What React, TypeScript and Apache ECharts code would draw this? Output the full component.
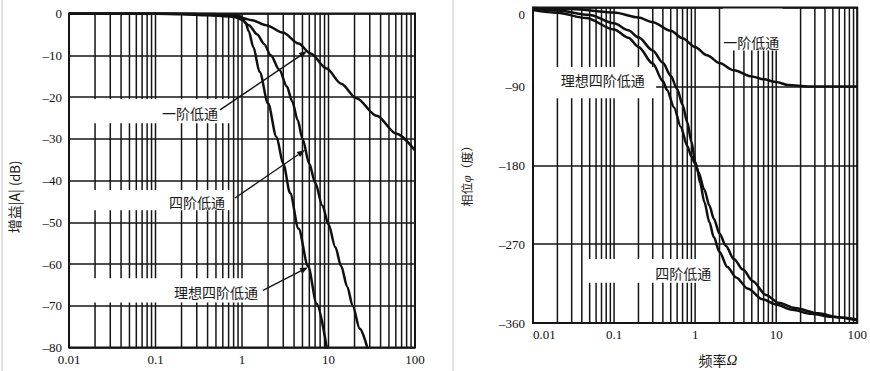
import React, { useEffect, useRef } from "react";
import * as echarts from "echarts";

// ---------- data ----------
const gridFreqs = [
  0.01, 0.02, 0.03, 0.04, 0.05, 0.06, 0.07, 0.08, 0.09,
  0.1, 0.2, 0.3, 0.4, 0.5, 0.6, 0.7, 0.8, 0.9,
  1, 2, 3, 4, 5, 6, 7, 8, 9,
  10, 20, 30, 40, 50, 60, 70, 80, 90, 100,
];
const freqTicks = [0.01, 0.1, 1, 10, 100];

// gain |A| (dB)  [Ω, dB]
const firstOrderGain = [
  [0.01, 0], [0.1, -0.05], [0.2, -0.15], [0.4, -0.4], [0.7, -0.7], [1, -1.1],
  [1.3, -1.6], [1.9, -2.8], [3, -4.6], [4.5, -7.2], [6.2, -9.6], [9.5, -13.2],
  [14, -16.8], [21, -20.3], [36, -24.5], [61, -28.8], [100, -32.8],
];
const fourthOrderGain = [
  [0.01, 0], [0.1, 0], [0.3, -0.1], [0.6, -0.3], [0.8, -0.6], [1, -1.5],
  [1.2, -2.8], [1.5, -5], [1.8, -7.3], [2.15, -10], [2.7, -13.5], [3.3, -17.5],
  [3.8, -21], [4.4, -25.5], [5.0, -30], [6.0, -36], [7.0, -40.5], [8.5, -46],
  [10, -50.5], [12, -56], [14, -60.5], [16.5, -65.5], [19, -70], [23, -75.5],
  [28.5, -80.5],
];
const idealFourthGain = [
  [0.01, 0], [0.1, 0], [0.5, -0.1], [0.9, -0.4], [1, -0.9], [1.1, -2.3],
  [1.2, -4.3], [1.35, -8], [1.6, -14], [2.0, -21.5], [2.5, -29.5], [3.0, -36],
  [3.6, -43], [4.5, -51.5], [5.8, -60.5], [7.3, -69.5], [9.7, -81],
];

// phase φ (deg)  [Ω, deg]
const firstOrderPhase = [
  [0.01, -0.6], [0.03, -1.7], [0.1, -5.7], [0.2, -11.3], [0.3, -16.7],
  [0.5, -26.6], [0.7, -35], [1, -45], [1.4, -54.5], [2, -63.4], [3, -71.6],
  [5, -78.7], [7, -82], [10, -85], [14, -88.5], [25, -90], [50, -90], [100, -90],
];
const idealFourthPhase = [
  [0.01, -1.5], [0.02, -3.5], [0.05, -8.5], [0.1, -18], [0.15, -26], [0.2, -34],
  [0.3, -49], [0.4, -63], [0.5, -78], [0.6, -93], [0.7, -111], [0.8, -131],
  [0.9, -153], [1.0, -176], [1.05, -182], [1.15, -200], [1.3, -222], [1.5, -245],
  [1.7, -262], [2.0, -279], [2.5, -296], [3.2, -308], [4.5, -321], [6.8, -333],
  [10, -339], [15.7, -345], [27, -349.5], [48, -353], [100, -357],
];
const fourthOrderPhase = [
  [0.01, -3], [0.02, -6], [0.045, -12], [0.1, -25], [0.15, -34.5], [0.2, -45],
  [0.3, -64], [0.4, -84], [0.45, -94], [0.55, -114], [0.664, -136], [0.8, -158],
  [0.9, -170], [1.0, -178], [1.1, -188], [1.3, -208], [1.5, -226], [1.7, -241],
  [2.0, -258], [2.4, -272], [3.0, -287], [3.9, -299], [5.1, -312], [7.5, -328],
  [10.7, -337], [17, -343], [33, -349], [57, -353.4], [100, -356],
];

// ---------- annotations (data coords) ----------
const labelNames = ["一阶低通", "四阶低通", "理想四阶低通"];
const gainLabels = [[0.251, -23.9, 0], [0.302, -45.2, 1], [0.5, -66.8, 2]];
const gainArrows = [
  [0.557, -23.1, 5.64, -9.0],
  [0.83, -44.2, 5.35, -32.7],
  [1.75, -66.3, 5.8, -60.8],
];
const gainBands = [
  [0.0104, 0.76, -20.5, -26.3],
  [0.0104, 0.76, -42.3, -47.1],
  [0.0104, 1.6, -63.4, -69.2],
];
const phaseLabels = [[4.91, -39.4, 0], [0.0726, -82.7, 2], [0.716, -302.8, 1]];
const phaseBands = [
  [2.2, 12, -0.5, -49],
  [0.0103, 0.33, -68, -103.5],
  [0.045, 1.3, -287, -314],
];

const SERIF = "Liberation Serif";
const CJK = "Noto Sans CJK SC";
const INK = "#151515";

function fmtFreq(v: number) {
  return String(Number(v.toPrecision(2)));
}
function fmtNeg(v: number) {
  return v < 0 ? "\u2013" + String(-v) : String(v);
}

function gridLineSeries(idx: number) {
  return {
    type: "custom",
    xAxisIndex: idx,
    yAxisIndex: idx,
    z: 1,
    silent: true,
    encode: { x: 0, y: 1 },
    data: gridFreqs.map((f) => [f, -1]),
    renderItem: (params: any, api: any) => {
      const cs = params.coordSys;
      const x = api.coord([api.value(0), -1])[0];
      return {
        type: "line",
        shape: { x1: x, y1: cs.y, x2: x, y2: cs.y + cs.height },
        style: { stroke: INK, lineWidth: 1.5 },
      };
    },
  };
}

function bandSeries(idx: number, bands: number[][]) {
  return {
    type: "custom",
    xAxisIndex: idx,
    yAxisIndex: idx,
    z: 2,
    silent: true,
    encode: { x: [0, 1], y: [2, 3] },
    data: bands,
    renderItem: (_p: any, api: any) => {
      const a = api.coord([api.value(0), api.value(2)]);
      const b = api.coord([api.value(1), api.value(3)]);
      return {
        type: "rect",
        shape: { x: a[0], y: a[1], width: b[0] - a[0], height: b[1] - a[1] },
        style: { fill: "#ffffff" },
      };
    },
  };
}

function textSeries(idx: number, labels: number[][]) {
  return {
    type: "custom",
    xAxisIndex: idx,
    yAxisIndex: idx,
    z: 5,
    silent: true,
    encode: { x: 0, y: 1 },
    data: labels,
    renderItem: (_p: any, api: any) => {
      const p = api.coord([api.value(0), api.value(1)]);
      return {
        type: "text",
        x: p[0],
        y: p[1],
        style: {
          text: labelNames[api.value(2)],
          align: "center",
          verticalAlign: "middle",
          fontSize: 14,
          fontFamily: CJK,
          fill: "#1a1a1a",
        },
      };
    },
  };
}

function arrowSeries(idx: number, arrows: number[][]) {
  return {
    type: "custom",
    xAxisIndex: idx,
    yAxisIndex: idx,
    z: 4,
    silent: true,
    encode: { x: [0, 2], y: [1, 3] },
    data: arrows,
    renderItem: (_p: any, api: any) => {
      const p1 = api.coord([api.value(0), api.value(1)]);
      const p2 = api.coord([api.value(2), api.value(3)]);
      const dx = p2[0] - p1[0];
      const dy = p2[1] - p1[1];
      const len = Math.sqrt(dx * dx + dy * dy) || 1;
      const ux = dx / len;
      const uy = dy / len;
      const hl = 8;
      const hw = 3;
      const bx = p2[0] - ux * hl;
      const by = p2[1] - uy * hl;
      return {
        type: "group",
        children: [
          {
            type: "line",
            shape: { x1: p1[0], y1: p1[1], x2: bx, y2: by },
            style: { stroke: INK, lineWidth: 1.4 },
          },
          {
            type: "polygon",
            shape: {
              points: [
                [p2[0], p2[1]],
                [bx - uy * hw, by + ux * hw],
                [bx + uy * hw, by - ux * hw],
              ],
            },
            style: { fill: INK },
          },
        ],
      };
    },
  };
}

function frameSeries(idx: number) {
  return {
    type: "custom",
    xAxisIndex: idx,
    yAxisIndex: idx,
    z: 6,
    silent: true,
    encode: { x: 0, y: 1 },
    data: [[1, -1]],
    renderItem: (params: any) => {
      const cs = params.coordSys;
      return {
        type: "rect",
        shape: { x: cs.x, y: cs.y, width: cs.width, height: cs.height },
        style: { fill: "none", stroke: INK, lineWidth: 2 },
      };
    },
  };
}

function curve(idx: number, data: number[][]) {
  return {
    type: "line",
    xAxisIndex: idx,
    yAxisIndex: idx,
    z: 3,
    data,
    showSymbol: false,
    smooth: 0.3,
    smoothMonotone: "x",
    clip: true,
    lineStyle: { color: "#101010", width: 2.5 },
    silent: true,
  };
}

export default function App() {
  const ref = useRef<HTMLDivElement>(null);

  useEffect(() => {
    document.body.style.margin = "0";
    if (!ref.current) return;
    const chart = echarts.init(ref.current, undefined, { renderer: "svg" });

    const labelStyle = {
      fontFamily: SERIF,
      fontSize: 13,
      color: "#111",
    };

    const xAxisBase = {
      type: "log",
      logBase: 10,
      min: 0.01,
      max: 100,
      axisLine: { show: false },
      axisTick: { show: false },
      splitLine: { show: false },
    };

    chart.setOption({
      animation: false,
      backgroundColor: "#ffffff",
      textStyle: { fontFamily: SERIF },
      grid: [
        { left: 69, top: 13.5, width: 346, height: 334 },
        { left: 533, top: 7.5, width: 330, height: 315.5 },
      ],
      xAxis: [
        {
          ...xAxisBase,
          gridIndex: 0,
          axisLabel: {
            ...labelStyle,
            customValues: freqTicks,
            formatter: (v: number) => fmtFreq(v),
            margin: 5,
          },
        },
        {
          ...xAxisBase,
          gridIndex: 1,
          axisLabel: {
            ...labelStyle,
            customValues: freqTicks,
            formatter: (v: number) => fmtFreq(v),
            margin: 5,
            alignMinLabel: "left",
          },
        },
      ],
      yAxis: [
        {
          gridIndex: 0,
          type: "value",
          min: -80,
          max: 0,
          interval: 10,
          axisLine: { show: false },
          axisTick: { show: false },
          splitLine: { show: true, lineStyle: { color: INK, width: 1.5 } },
          axisLabel: {
            ...labelStyle,
            formatter: (v: number) => fmtNeg(v),
            margin: 7,
          },
        },
        {
          gridIndex: 1,
          type: "value",
          min: -360,
          max: 0,
          interval: 90,
          axisLine: { show: false },
          axisTick: { show: false },
          splitLine: { show: true, lineStyle: { color: INK, width: 1.5 } },
          axisLabel: {
            ...labelStyle,
            formatter: (v: number) => fmtNeg(v),
            margin: 8,
            verticalAlignMaxLabel: "top",
          },
        },
      ],
      series: [
        gridLineSeries(0),
        gridLineSeries(1),
        bandSeries(0, gainBands),
        bandSeries(1, phaseBands),
        curve(0, firstOrderGain),
        curve(0, fourthOrderGain),
        curve(0, idealFourthGain),
        curve(1, firstOrderPhase),
        curve(1, fourthOrderPhase),
        curve(1, idealFourthPhase),
        arrowSeries(0, gainArrows),
        textSeries(0, gainLabels),
        textSeries(1, phaseLabels),
        frameSeries(0),
        frameSeries(1),
      ],
      graphic: [
        {
          type: "line",
          shape: { x1: 2, y1: 0, x2: 2, y2: 371 },
          style: { stroke: "#e2e2e2", lineWidth: 2 },
        },
        {
          type: "line",
          shape: { x1: 453, y1: 0, x2: 453, y2: 371 },
          style: { stroke: "#e2e2e2", lineWidth: 2 },
        },
        {
          type: "text",
          x: 14,
          y: 197,
          rotation: Math.PI / 2,
          style: {
            text: "{a|增益|A| }{b|(dB)}",
            align: "center",
            verticalAlign: "middle",
            rich: {
              a: { fontSize: 14, fontFamily: CJK, fill: "#1a1a1a" },
              b: { fontSize: 13, fontFamily: CJK, fill: "#1a1a1a" },
            },
          },
        },
        {
          type: "text",
          x: 466,
          y: 173,
          rotation: Math.PI / 2,
          style: {
            text: "{a|相位}{b|φ}{a|（度）}",
            align: "center",
            verticalAlign: "middle",
            rich: {
              a: { fontSize: 12, fontFamily: CJK, fill: "#1a1a1a" },
              b: {
                fontSize: 13,
                fontFamily: SERIF,
                fontStyle: "italic",
                fill: "#1a1a1a",
              },
            },
          },
        },
        {
          type: "text",
          x: 718,
          y: 360,
          style: {
            text: "{a|频率}{b|Ω}",
            align: "center",
            verticalAlign: "middle",
            rich: {
              a: { fontSize: 14, fontFamily: CJK, fill: "#1a1a1a" },
              b: {
                fontSize: 15,
                fontFamily: SERIF,
                fontStyle: "italic",
                fill: "#1a1a1a",
              },
            },
          },
        },
      ],
    });

    return () => chart.dispose();
  }, []);

  return <div ref={ref} style={{ width: 870, height: 371 }} />;
}
